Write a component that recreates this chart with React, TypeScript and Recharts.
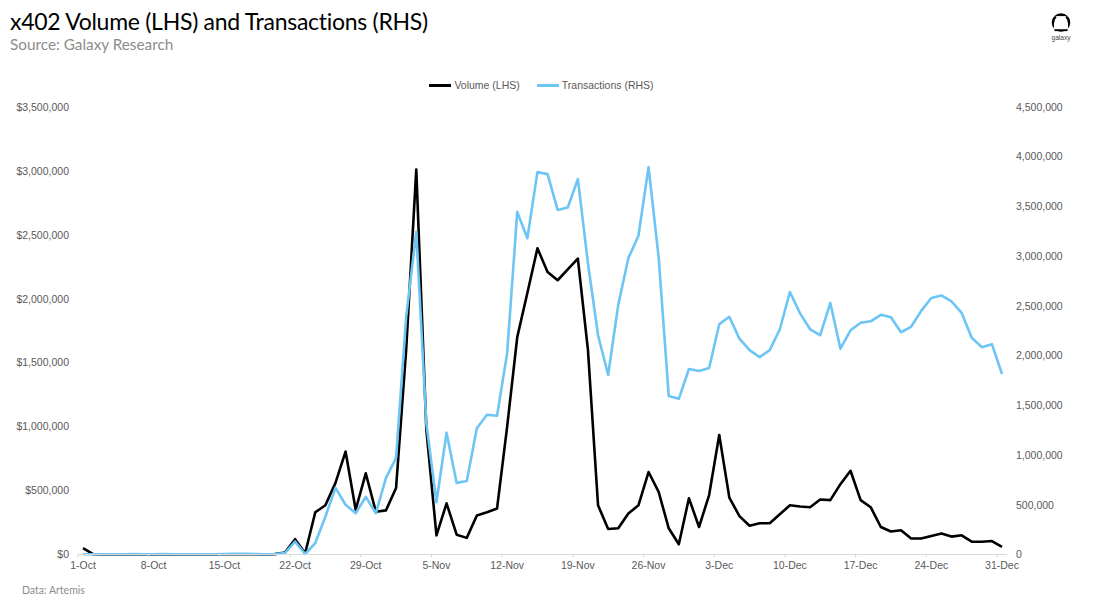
import React from "react";
import { ComposedChart, Line, XAxis, YAxis, Legend } from "recharts";

const dates = ["1-Oct","2-Oct","3-Oct","4-Oct","5-Oct","6-Oct","7-Oct","8-Oct","9-Oct","10-Oct","11-Oct","12-Oct","13-Oct","14-Oct","15-Oct","16-Oct","17-Oct","18-Oct","19-Oct","20-Oct","21-Oct","22-Oct","23-Oct","24-Oct","25-Oct","26-Oct","27-Oct","28-Oct","29-Oct","30-Oct","31-Oct",
"1-Nov","2-Nov","3-Nov","4-Nov","5-Nov","6-Nov","7-Nov","8-Nov","9-Nov","10-Nov","11-Nov","12-Nov","13-Nov","14-Nov","15-Nov","16-Nov","17-Nov","18-Nov","19-Nov","20-Nov","21-Nov","22-Nov","23-Nov","24-Nov","25-Nov","26-Nov","27-Nov","28-Nov","29-Nov","30-Nov",
"1-Dec","2-Dec","3-Dec","4-Dec","5-Dec","6-Dec","7-Dec","8-Dec","9-Dec","10-Dec","11-Dec","12-Dec","13-Dec","14-Dec","15-Dec","16-Dec","17-Dec","18-Dec","19-Dec","20-Dec","21-Dec","22-Dec","23-Dec","24-Dec","25-Dec","26-Dec","27-Dec","28-Dec","29-Dec","30-Dec","31-Dec"];

const volume = [50000,3000,1000,500,1000,2000,1000,500,2000,1000,500,500,500,1000,2000,2000,2500,1500,1000,3000,15000,120000,10000,330000,385000,560000,805000,350000,635000,335000,345000,
520000,1600000,3010000,975000,150000,400000,155000,130000,305000,330000,360000,1000000,1700000,2045000,2395000,2210000,2145000,2230000,2315000,1600000,385000,200000,205000,320000,385000,645000,490000,205000,80000,440000,
215000,465000,935000,445000,300000,225000,245000,245000,315000,385000,375000,370000,430000,425000,550000,655000,425000,370000,215000,180000,190000,125000,125000,145000,165000,140000,150000,100000,100000,105000,60000];

const transactions = [2000,2000,2000,2000,3000,5000,3000,2000,4000,2000,2000,2000,2000,3000,5000,6000,7000,5000,3000,5000,15000,130000,5000,115000,380000,670000,500000,415000,580000,415000,770000,
970000,2390000,3245000,1320000,525000,1225000,720000,740000,1270000,1405000,1395000,2025000,3445000,3180000,3845000,3825000,3465000,3490000,3775000,2930000,2205000,1805000,2510000,2980000,3205000,3895000,2990000,1595000,1565000,1865000,
1845000,1875000,2315000,2390000,2170000,2055000,1985000,2055000,2265000,2640000,2425000,2265000,2205000,2530000,2070000,2255000,2330000,2345000,2410000,2385000,2235000,2290000,2450000,2580000,2605000,2545000,2430000,2180000,2085000,2115000,1815000];

const leftTicks = [0,500000,1000000,1500000,2000000,2500000,3000000,3500000];
const rightTicks = [0,500000,1000000,1500000,2000000,2500000,3000000,3500000,4000000,4500000];
const tableRows = dates.map((date, i) => ({ date, volume: volume[i], transactions: transactions[i] }));

const AXIS_FONT = "'Liberation Sans', Arial, sans-serif";
const HEAD_FONT = "Lato, sans-serif";
const tickStyle = { fontFamily: AXIS_FONT, fontSize: 10.5, fill: "#595959" };

const LegendContent = ({ payload }: any) => (
  <div style={{ display: "flex", justifyContent: "center", gap: 17, fontFamily: AXIS_FONT, fontSize: 10.5, color: "#595959", height: 14, alignItems: "center", width: 1083 }}>
    {(payload || []).map((p: any) => (
      <div key={p.value} style={{ display: "flex", alignItems: "center", gap: 3 }}>
        <span style={{ display: "inline-block", width: 22, height: 3, background: p.color }} />
        <span>{p.value}</span>
      </div>
    ))}
  </div>
);

const XTick = ({ x, y, payload }: any) => (
  <g>
    <line x1={x - 5} x2={x - 5} y1={554.5} y2={557.5} stroke="#d9d9d9" />
    <text x={x} y={y + 8} textAnchor="middle" {...tickStyle}>{payload.value}</text>
  </g>
);

export default function App() {
  return (
    <div style={{ position: "absolute", left: 0, top: 0, width: 1100, height: 608, background: "#fff", overflow: "hidden" }}>
      <div style={{ position: "absolute", left: 10, top: 7, fontFamily: HEAD_FONT, fontSize: 23, fontWeight: 400, color: "#000", lineHeight: "28px", whiteSpace: "nowrap", letterSpacing: -0.28 }}>
        x402 Volume (LHS) and Transactions (RHS)
      </div>
      <div style={{ position: "absolute", left: 10, top: 34, fontFamily: HEAD_FONT, fontSize: 15.3, color: "#8c8c8c", lineHeight: "20px", whiteSpace: "nowrap" }}>
        Source: Galaxy Research
      </div>
      <svg style={{ position: "absolute", left: 1049, top: 11 }} width={24} height={32} viewBox="0 0 24 32">
        <circle cx={12} cy={11.5} r={8} fill="none" stroke="#000" strokeWidth={2.6} />
        <rect x={5} y={4.8} width={14} height={14} rx={2} fill="#fff" />
        <path d="M4.5 11.5 A7.5 7.5 0 0 1 7 5.5" fill="none" stroke="#000" strokeWidth={2} />
        <path d="M19.5 11.5 A7.5 7.5 0 0 0 17 5.5" fill="none" stroke="#000" strokeWidth={2} />
        <path d="M7 4.6 H17" fill="none" stroke="#000" strokeWidth={1} />
        <path d="M5.5 19.2 H18.5" fill="none" stroke="#000" strokeWidth={1.8} />
        <text x={12} y={29} textAnchor="middle" fontFamily={AXIS_FONT} fontSize={6.5} fill="#444">galaxy</text>
      </svg>
      <ComposedChart width={1100} height={608} data={tableRows} margin={{ top: 93, right: 0, bottom: 23.5, left: 0 }} style={{ position: "absolute", left: 0, top: 0 }}>
        <Legend verticalAlign="top" align="center" itemSorter={null as any} content={<LegendContent />} wrapperStyle={{ position: "absolute", top: 78, left: 0, width: 1100 }} />
        <XAxis dataKey="date" interval={6} padding={{ left: 5, right: 5 }} tick={<XTick />} tickLine={false} axisLine={{ stroke: "#d9d9d9" }} tickMargin={0} />
        <YAxis yAxisId="left" orientation="left" width={78} domain={[0, 3500000]} ticks={leftTicks} tick={tickStyle} axisLine={false} tickLine={false} tickMargin={3} tickFormatter={(v: number) => "$" + v.toLocaleString("en-US")} />
        <YAxis yAxisId="right" orientation="right" width={93} domain={[0, 4500000]} ticks={rightTicks} tick={tickStyle} axisLine={false} tickLine={false} tickMargin={3} tickFormatter={(v: number) => v.toLocaleString("en-US")} />
        <Line yAxisId="left" dataKey="volume" name="Volume (LHS)" stroke="#000000" strokeWidth={2.6} dot={false} isAnimationActive={false} strokeLinejoin="round" />
        <Line yAxisId="right" dataKey="transactions" name="Transactions (RHS)" stroke="#6cc5f5" strokeWidth={2.6} dot={false} isAnimationActive={false} strokeLinejoin="round" />
      </ComposedChart>
      <div style={{ position: "absolute", left: 22, top: 583, fontFamily: HEAD_FONT, fontSize: 10.5, color: "#8c8c8c", lineHeight: "14px" }}>
        Data: Artemis
      </div>
    </div>
  );
}
